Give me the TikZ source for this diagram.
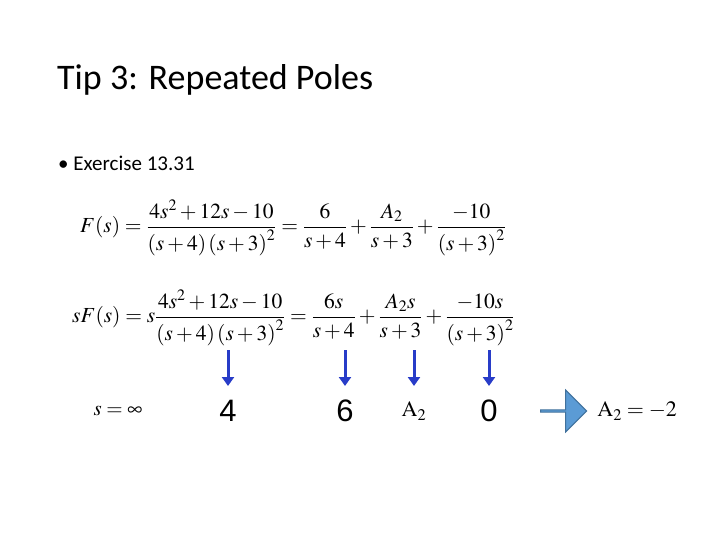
\documentclass[tikz,border=0pt]{standalone}
\usepackage{amsmath}
\usepackage{mathptmx}
\usepackage{fontspec}
\setmainfont{Carlito}
\newfontfamily\valfont{Liberation Sans}
\usetikzlibrary{positioning,shapes.arrows,arrows.meta}
\definecolor{downblue}{RGB}{40,60,200}
\definecolor{boxfill}{RGB}{91,155,213}
\definecolor{boxline}{RGB}{65,113,156}
\tikzset{
	eqn/.style={inner sep=0pt, font=\fontsize{21.5}{24}\selectfont},
	val/.style={inner sep=0pt, font=\valfont\fontsize{31}{33}\selectfont},
	down/.style={-{Triangle[length=9pt,width=12pt]}, line width=3pt, draw=downblue}
}
\begin{document}
\begin{tikzpicture}[x=1pt,y=-1pt]
	\useasboundingbox (0,0) rectangle (720,540);
	\node[anchor=west, inner sep=0pt, font=\fontsize{36}{40}\selectfont] (title) at (57,80) {Tip 3: Repeated Poles};
	\node[anchor=west, inner sep=0pt, font=\fontsize{21}{24}\selectfont] (bullet) at (58,163) {\textbullet\ Exercise 13.31};
	\node[eqn, anchor=west] (eqA) at (80,228) {$F(s)=\dfrac{4s^2+12s-10}{\left(s+4\right)\left(s+3\right)^2}=\dfrac{6}{s+4}+\dfrac{A_2}{s+3}+\dfrac{-10}{\left(s+3\right)^2}$};
	\node[eqn, anchor=west] (eqB) at (72,318) {$sF(s)=s\dfrac{4s^2+12s-10}{\left(s+4\right)\left(s+3\right)^2}=\dfrac{6s}{s+4}+\dfrac{A_2s}{s+3}+\dfrac{-10s}{\left(s+3\right)^2}$};
	% values at infinity
	\node[eqn, font=\fontsize{21}{22}\selectfont] (sinf) at (118,411) {$s=\infty$};
	\node[val] (v1) at (228,411) {4};
	\node[val] (v2) at (345,411) {6};
	\node[eqn, font=\fontsize{22}{24}\selectfont] (v3) at (414,411) {$\mathrm{A}_2$};
	\node[val] (v4) at (489,411) {0};
	\coordinate (t1) at (228,350);
	\coordinate (t2) at (345,350);
	\coordinate (t3) at (414,350);
	\coordinate (t4) at (489,350);
	\draw[down] (t1) -- ++(0,36);
	\draw[down] (t2) -- ++(0,36);
	\draw[down] (t3) -- ++(0,36);
	\draw[down] (t4) -- ++(0,36);
	\node[single arrow, fill=boxfill, draw=boxline, line width=1pt, minimum height=46pt, minimum width=42pt, single arrow head extend=9pt, inner sep=0pt] (res) at (563,411) {};
	\node[eqn, font=\fontsize{22}{24}\selectfont, right=10pt of res] (ans) {$\mathrm{A}_2=-2$};
\end{tikzpicture}
\end{document}
